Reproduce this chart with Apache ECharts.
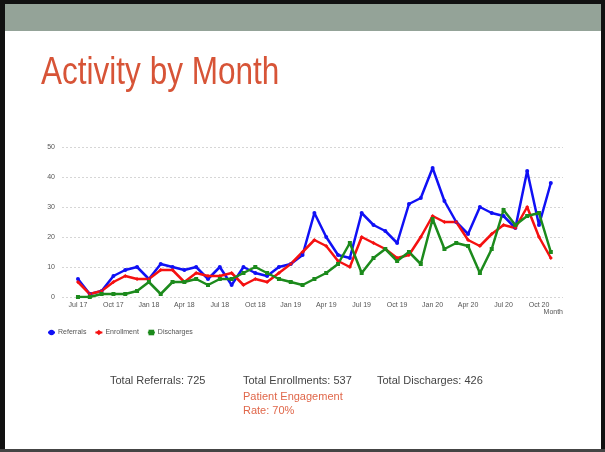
<!DOCTYPE html>
<html>
<head>
<meta charset="utf-8">
<script src="https://cdn.jsdelivr.net/npm/echarts@6/dist/echarts.min.js"></script>
<style>
  html, body { margin: 0; padding: 0; background: #fff; }
  #main { width: 605px; height: 452px; }
</style>
</head>
<body>
<div id="main"></div>
<script>
// months on the x axis (Jul 17 .. Nov 20)
const months = [
  'Jul 17', 'Aug 17', 'Sep 17', 'Oct 17', 'Nov 17', 'Dec 17',
  'Jan 18', 'Feb 18', 'Mar 18', 'Apr 18', 'May 18', 'Jun 18',
  'Jul 18', 'Aug 18', 'Sep 18', 'Oct 18', 'Nov 18', 'Dec 18',
  'Jan 19', 'Feb 19', 'Mar 19', 'Apr 19', 'May 19', 'Jun 19',
  'Jul 19', 'Aug 19', 'Sep 19', 'Oct 19', 'Nov 19', 'Dec 19',
  'Jan 20', 'Feb 20', 'Mar 20', 'Apr 20', 'May 20', 'Jun 20',
  'Jul 20', 'Aug 20', 'Sep 20', 'Oct 20', 'Nov 20'
];
// which months get a tick label
const labelMonths = ['Jul 17', 'Oct 17', 'Jan 18', 'Apr 18', 'Jul 18', 'Oct 18', 'Jan 19',
  'Apr 19', 'Jul 19', 'Oct 19', 'Jan 20', 'Apr 20', 'Jul 20', 'Oct 20'];
// monthly counts
const referrals = [6, 1, 2, 7, 9, 10, 6, 11, 10, 9, 10, 6, 10, 4,
  10, 8, 7, 10, 11, 14, 28, 20, 14, 13, 28, 24, 22, 18, 31,
  33, 43, 32, 25, 21, 30, 28, 27, 23, 42, 24, 38];
const enrollment = [5, 1, 2, 5, 7, 6, 6, 9, 9, 5, 8, 7, 7, 8,
  4, 6, 5, 8, 11, 15, 19, 17, 12, 10, 20, 18, 16, 13, 14,
  20, 27, 25, 25, 19, 17, 21, 24, 23, 30, 20, 13];
const discharges = [0, 0, 1, 1, 1, 2, 5, 1, 5, 5, 6, 4, 6, 6,
  8, 10, 8, 6, 5, 4, 6, 8, 11, 18, 8, 13, 16, 12, 15,
  11, 26, 16, 18, 17, 8, 16, 29, 24, 27, 28, 15];
// summary numbers under the chart
const totals = { referrals: 725, enrollments: 537, discharges: 426 };
const engagementRate = 70;

const toPoints = arr => arr.map((v, i) => [i, v]);
const FONT = '"Liberation Sans", Arial, sans-serif';

var myChart = echarts.init(document.getElementById('main'), null, { renderer: 'canvas' });

const lineSeries = (name, data, color, symbol) => ({
  name: name,
  type: 'line',
  data: toPoints(data),
  symbol: symbol,
  symbolSize: 4,
  showSymbol: true,
  lineStyle: { width: 2.5, color: color },
  itemStyle: { color: color, borderWidth: 0 },
  emphasis: { disabled: true },
  animation: false
});

var option = {
  backgroundColor: '#fff',
  animation: false,
  textStyle: { fontFamily: FONT },
  grid: { left: 62, right: 42, top: 147, bottom: 155 },
  xAxis: {
    type: 'value',
    min: -1.35,
    max: 41.03,
    name: 'Month',
    nameLocation: 'end',
    nameGap: 0,
    nameTextStyle: { color: '#555', fontSize: 7, align: 'right', verticalAlign: 'top', padding: [12, 0, 0, 0] },
    axisLine: { show: false },
    axisTick: { show: false },
    splitLine: { show: false },
    axisLabel: {
      customValues: labelMonths.map(m => months.indexOf(m)),
      formatter: v => months[v],
      color: '#555',
      fontSize: 7,
      margin: 5
    }
  },
  yAxis: {
    type: 'value',
    min: 0,
    max: 50,
    interval: 10,
    axisLine: { show: false },
    axisTick: { show: false },
    axisLabel: { color: '#555', fontSize: 7, margin: 7 },
    splitLine: { lineStyle: { color: '#d6d6d6', type: [2, 2], width: 1 } }
  },
  legend: {
    left: 47,
    top: 329,
    padding: 0,
    itemWidth: 7,
    itemHeight: 7,
    itemGap: 8,
    textStyle: { color: '#555', fontSize: 7, padding: [0, 0, 0, -2] },
    data: ['Referrals', 'Enrollment', 'Discharges']
  },
  graphic: [
    // slide frame
    { type: 'rect', shape: { x: 0, y: 0, width: 605, height: 452 }, style: { fill: '#fff' }, z: -10, silent: true },
    { type: 'rect', shape: { x: 5, y: 4, width: 597, height: 27 }, style: { fill: '#94a398' }, silent: true },
    { type: 'rect', shape: { x: 0, y: 0, width: 605, height: 4 }, style: { fill: '#111' }, silent: true },
    { type: 'rect', shape: { x: 0, y: 0, width: 5, height: 452 }, style: { fill: '#111' }, silent: true },
    { type: 'rect', shape: { x: 601, y: 0, width: 4, height: 452 }, style: { fill: '#111' }, silent: true },
    { type: 'rect', shape: { x: 0, y: 449, width: 605, height: 3 }, style: { fill: '#444' }, silent: true },
    // title
    {
      type: 'text', left: 41, top: 55, scaleX: 0.83, silent: true,
      style: { text: 'Activity by Month', fill: '#d75437', font: '38px ' + FONT }
    },
    // totals
    {
      type: 'text', left: 110, top: 375, silent: true,
      style: { text: 'Total Referrals: ' + totals.referrals, fill: '#444', font: '11px ' + FONT }
    },
    {
      type: 'text', left: 243, top: 375, silent: true,
      style: { text: 'Total Enrollments: ' + totals.enrollments, fill: '#444', font: '11px ' + FONT }
    },
    {
      type: 'text', left: 377, top: 375, silent: true,
      style: { text: 'Total Discharges: ' + totals.discharges, fill: '#444', font: '11px ' + FONT }
    },
    {
      type: 'text', left: 243, top: 390, silent: true,
      style: { text: 'Patient Engagement\nRate: ' + engagementRate + '%', fill: '#e0674a', lineHeight: 14, font: '11px ' + FONT }
    }
  ],
  series: [
    lineSeries('Referrals', referrals, '#1010f5', 'circle'),
    lineSeries('Enrollment', enrollment, '#f51010', 'diamond'),
    lineSeries('Discharges', discharges, '#1c8a1c', 'rect')
  ]
};
option && myChart.setOption(option);
</script>
</body>
</html>
